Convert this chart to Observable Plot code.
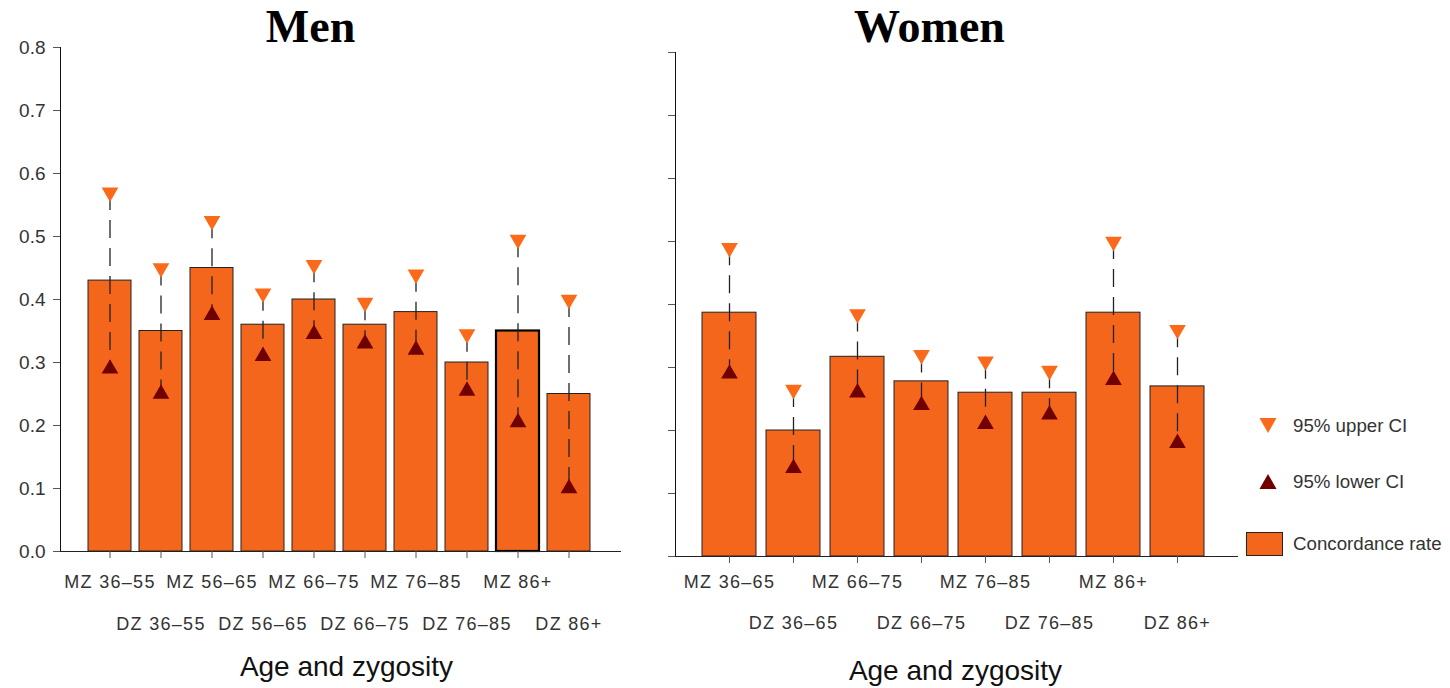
<!DOCTYPE html>
<html><head><meta charset="utf-8">
<script src="https://cdn.jsdelivr.net/npm/d3@7"></script>
<script src="https://cdn.jsdelivr.net/npm/@observablehq/plot@0.6"></script>
<style>
html,body{margin:0;padding:0;background:#fff;}
#wrap{position:relative;width:1450px;height:688px;overflow:hidden;font-family:"Liberation Sans",Arial,sans-serif;}
#left,#right,#legend{position:absolute;top:0;}
#left{left:0}
#right{left:640px}
#legend{left:1230px;top:400px}
g[aria-label="x-axis tick label"] text{letter-spacing:1.3px}
</style></head><body>
<div id="wrap"><div id="left"></div><div id="right"></div>
<svg id="legend" width="220" height="170" font-family="Liberation Sans, Arial, sans-serif" font-size="18.7" fill="#333">
  <polygon points="29.5,18 46.5,18 38,33" fill="#fa6a1a"/>
  <text x="63" y="32">95% upper CI</text>
  <polygon points="29.5,89 46.5,89 38,74" fill="#700000"/>
  <text x="63" y="88">95% lower CI</text>
  <rect x="16.5" y="132.5" width="36" height="23" fill="#f4661b" stroke="#222" stroke-width="1"/>
  <text x="63" y="150">Concordance rate</text>
</svg>
</div>
<script>
// ---- data ----
const yTicks = [0, 0.1, 0.2, 0.3, 0.4, 0.5, 0.6, 0.7, 0.8];

const menCats  = ["MZ 36–55","DZ 36–55","MZ 56–65","DZ 56–65","MZ 66–75","DZ 66–75","MZ 76–85","DZ 76–85","MZ 86+","DZ 86+"];
const menRate  = [0.43, 0.35, 0.45, 0.36, 0.40, 0.36, 0.38, 0.30, 0.35, 0.25];
const menUpper = [0.57, 0.45, 0.525, 0.41, 0.455, 0.395, 0.44, 0.345, 0.495, 0.40];
const menLower = [0.29, 0.25, 0.375, 0.31, 0.345, 0.33, 0.32, 0.255, 0.205, 0.10];

const womenCats  = ["MZ 36–65","DZ 36–65","MZ 66–75","DZ 66–75","MZ 76–85","DZ 76–85","MZ 86+","DZ 86+"];
const womenRate  = [0.387, 0.20, 0.317, 0.278, 0.26, 0.26, 0.387, 0.27];
const womenUpper = [0.49, 0.265, 0.385, 0.32, 0.31, 0.295, 0.50, 0.36];
const womenLower = [0.29, 0.14, 0.26, 0.24, 0.21, 0.225, 0.28, 0.18];

const BAR = "#f4661b", UP = "#fa6a1a", LOW = "#700000";
const FONT = "'Liberation Sans', Arial, sans-serif";

function rows(cats, rate, up, lo) {
  return cats.map((c, i) => ({cat: c, rate: rate[i], upper: up[i], lower: lo[i]}));
}
const men = rows(menCats, menRate, menUpper, menLower);
const women = rows(womenCats, womenRate, womenUpper, womenLower);

function panel(data, cats, o) {
  const even = cats.filter((d, i) => i % 2 === 0);
  const odd = cats.filter((d, i) => i % 2 === 1);
  return Plot.plot({
    width: o.width, height: 688,
    marginLeft: o.ml, marginRight: o.mr, marginTop: o.mt, marginBottom: o.mb,
    style: {fontFamily: FONT, fontSize: "18px", color: "#333", background: "transparent", overflow: "visible"},
    x: {domain: cats, paddingInner: 0.16, paddingOuter: 0.08, align: 0.5, insetLeft: o.il, insetRight: o.ir},
    y: {domain: [0, 0.8]},
    marks: [
      Plot.barY(data, {x: "cat", y: "rate", fill: BAR, stroke: "#222", strokeWidth: 1}),
      Plot.barY(data.filter(d => o.emph.includes(d.cat)), {x: "cat", y: "rate", fill: "none", stroke: "#000", strokeWidth: 2.2}),
      Plot.ruleX(data, {x: "cat", y1: "upper", y2: "lower", stroke: "#222", strokeWidth: 1.3, strokeDasharray: "18,10"}),
      Plot.dot(data, {x: "cat", y: "upper", symbol: "triangle", rotate: 180, r: 6.2, fill: UP}),
      Plot.dot(data, {x: "cat", y: "lower", symbol: "triangle", r: 6.2, fill: LOW}),
      Plot.frame({anchor: "left", stroke: "#111"}),
      Plot.frame({anchor: "bottom", stroke: "#222"}),
      Plot.axisY({ticks: yTicks, tickFormat: o.ylabels ? d3.format(".1f") : () => "", tickSize: 7, tickPadding: 8, fontSize: 19, stroke: "#555", fill: "#333", label: null}),
      Plot.axisX({ticks: even, tickSize: 7, tickPadding: o.tp1, fontSize: 18, stroke: "#555", fill: "#333", label: null}),
      Plot.axisX({ticks: odd, tickSize: 7, tickPadding: o.tp2, fontSize: 18, stroke: "#555", fill: "#333", label: null}),
      Plot.text([o.title], {text: d => d, frameAnchor: "top", dx: o.tdx, dy: o.tdy, lineAnchor: "middle", fontSize: 46, fontWeight: "bold", fontFamily: "'Liberation Serif', 'Times New Roman', serif", fill: "#000"}),
      Plot.text(["Age and zygosity"], {text: d => d, frameAnchor: "bottom", dx: o.adx, dy: o.ady, lineAnchor: "middle", fontSize: 28, fill: "#111"})
    ]
  });
}

document.getElementById("left").append(panel(men, menCats, {
  width: 640, ml: 60, mr: 20, mt: 47, mb: 137, il: 23.5, ir: 26.5,
  ylabels: true, tp1: 17, tp2: 59, title: "Men", tdx: -30, tdy: -20, adx: 6, ady: 116,
  emph: ["MZ 86+"]
}));
document.getElementById("right").append(panel(women, womenCats, {
  width: 810, ml: 35, mr: 213, mt: 52, mb: 132, il: 22, ir: 28,
  ylabels: false, tp1: 12, tp2: 53, title: "Women", tdx: -27, tdy: -25, adx: -1, ady: 115,
  emph: []
}));
</script>
</body></html>
